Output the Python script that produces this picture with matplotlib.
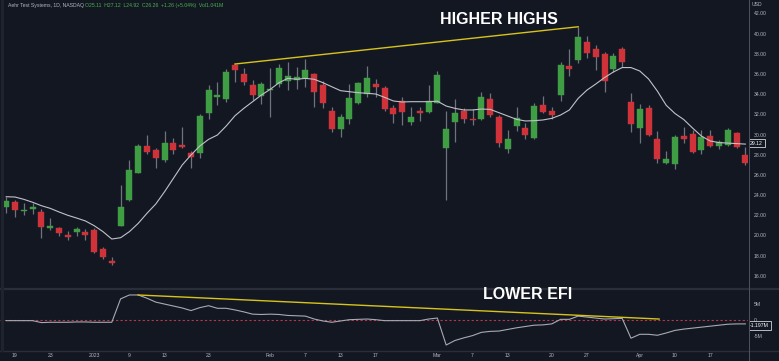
import matplotlib
matplotlib.use("Agg")
import matplotlib.pyplot as plt
from matplotlib.lines import Line2D
import numpy as np

# daily bars, 16 Dec 2022 .. 20 Apr 2023 (x = bar number)
opens = [22.79, 23.29, 22.45, 22.59, 22.36, 20.71, 20.77, 20.05, 20.32, 20.32,
         20.51, 18.66, 17.44, 20.97, 23.49, 26.19, 28.91, 28.46, 27.48, 29.13,
         28.96, 28.20, 28.20, 32.16, 33.74, 33.51, 36.88, 35.99, 34.90, 33.81,
         34.38, 35.00, 35.33, 35.40, 35.56, 35.99, 34.90, 32.36, 30.51, 31.50,
         33.15, 34.01, 35.00, 34.57, 32.62, 33.29, 31.21, 32.36, 32.26, 33.15,
         28.66, 31.24, 32.30, 31.57, 31.50, 33.51, 31.70, 28.56, 30.87, 30.61,
         29.68, 32.89, 32.36, 33.91, 36.81, 37.41, 39.15, 38.50, 37.97, 36.49,
         38.47, 33.25, 30.61, 32.62, 29.52, 27.15, 27.08, 29.88, 30.05, 28.47,
         29.85, 28.86, 28.96, 30.12, 27.97]
highs = [23.84, 23.52, 23.19, 23.25, 22.60, 21.73, 20.87, 20.48, 20.81, 20.61,
         20.71, 18.86, 17.84, 25.00, 27.48, 29.06, 29.98, 28.69, 30.38, 29.69,
         30.71, 28.37, 32.03, 34.90, 35.16, 36.51, 36.98, 36.55, 35.40, 35.23,
         36.60, 36.98, 37.21, 36.64, 37.48, 36.12, 35.33, 32.75, 32.03, 35.00,
         35.17, 36.78, 35.47, 34.80, 32.92, 33.68, 32.69, 32.69, 34.90, 36.32,
         32.36, 33.51, 32.59, 32.49, 34.18, 34.14, 31.93, 30.45, 32.75, 31.17,
         33.09, 33.81, 32.69, 37.21, 38.44, 40.67, 39.78, 38.86, 38.20, 38.04,
         38.70, 34.11, 32.99, 32.92, 30.35, 28.40, 29.95, 30.78, 30.45, 30.45,
         30.45, 29.45, 30.61, 30.28, 28.79]
lows = [22.26, 21.86, 22.00, 22.13, 19.72, 20.54, 19.98, 19.55, 19.98, 19.55,
        18.30, 17.64, 17.11, 20.97, 23.42, 26.16, 28.10, 26.71, 27.31, 28.10,
        28.63, 26.71, 27.70, 31.50, 32.92, 33.25, 35.17, 34.90, 33.42, 33.02,
        31.76, 34.67, 34.41, 34.47, 34.73, 32.69, 32.65, 30.28, 29.78, 31.04,
        33.02, 33.74, 33.68, 32.36, 31.17, 30.91, 30.94, 31.37, 32.16, 33.09,
        23.50, 29.29, 31.17, 30.91, 31.44, 31.76, 28.73, 28.14, 30.35, 29.52,
        29.58, 32.10, 31.50, 33.35, 35.79, 37.05, 37.54, 36.39, 34.24, 36.22,
        36.72, 30.25, 29.13, 29.85, 27.15, 27.05, 26.55, 29.13, 28.14, 28.04,
        28.79, 28.53, 28.89, 28.63, 26.98]
closes = [23.45, 22.55, 22.52, 22.82, 20.87, 20.97, 20.22, 19.85, 20.61, 20.08,
          18.37, 17.90, 17.27, 22.85, 26.49, 28.89, 28.24, 27.64, 29.20, 28.44,
          28.79, 27.74, 31.86, 34.41, 33.95, 36.16, 36.42, 35.23, 33.91, 34.97,
          34.47, 36.61, 35.79, 35.72, 36.39, 34.24, 33.09, 30.51, 31.76, 33.58,
          35.07, 35.59, 34.67, 32.52, 32.00, 32.20, 31.70, 32.10, 33.29, 35.89,
          30.51, 32.16, 31.53, 31.40, 33.68, 31.93, 29.19, 29.55, 31.60, 29.95,
          32.79, 32.20, 31.93, 36.88, 36.45, 39.62, 38.04, 37.70, 35.27, 37.80,
          37.15, 31.03, 32.52, 29.95, 27.54, 27.54, 29.72, 29.55, 28.24, 29.78,
          28.89, 29.22, 30.45, 28.79, 27.21]
ma_line = [23.84, 23.81, 23.58, 23.29, 22.95, 22.69, 22.33, 22.00, 21.73, 21.44,
           20.97, 20.38, 19.65, 19.78, 20.38, 21.20, 22.20, 23.12, 24.34, 25.66,
           26.98, 27.97, 28.86, 29.52, 29.95, 30.84, 31.86, 32.59, 33.25, 33.91,
           34.47, 35.13, 35.56, 35.47, 35.56, 35.47, 35.13, 34.73, 34.34, 34.24,
           34.14, 34.08, 34.01, 33.68, 33.32, 33.22, 33.25, 33.25, 33.25, 33.30,
           32.82, 32.59, 32.43, 32.43, 32.52, 32.49, 32.16, 31.83, 31.50, 31.34,
           31.37, 31.44, 31.60, 31.93, 32.43, 33.58, 34.40, 35.00, 35.64, 36.19,
           36.63, 36.63, 36.29, 35.50, 34.30, 32.90, 32.08, 31.48, 30.64, 29.85,
           29.36, 29.20, 29.15, 29.10, 29.05]
efi = [-0.2, -0.2, -0.2, -0.2, -0.8, -0.7, -0.7, -0.7, -0.6, -0.6,
       -0.7, -0.7, -0.7, 6.5, 7.7, 7.7, 6.7, 5.5, 4.9, 4.3,
       3.7, 2.9, 3.8, 4.4, 3.6, 3.6, 3.1, 2.5, 1.8, 1.7,
       1.8, 1.7, 1.4, 1.3, 1.2, 0.3, -0.3, -0.7, -0.3, 0.1,
       0.2, 0.3, 0.1, -0.2, -0.2, -0.2, -0.2, -0.2, 0.3, 0.6,
       -7.7, -6.3, -5.5, -4.8, -3.8, -3.5, -3.4, -2.9, -2.4, -2.0,
       -1.6, -1.5, -1.2, 0.2, 0.2, 1.2, 0.9, 0.6, 0.3, 0.4,
       0.5, -5.6, -4.4, -4.4, -4.7, -4.0, -3.2, -2.8, -2.5, -2.2,
       -1.9, -1.6, -1.3, -1.2, -1.2]  # millions

tick_pos = [1, 5, 10, 14, 18, 23, 30, 34, 38, 42, 49, 53, 57, 62, 66, 72, 76, 80]
tick_labels = ["19", "23", "2023", "9", "13", "23", "Feb", "7", "13", "17",
               "Mar", "7", "13", "20", "27", "Apr", "10", "17"]
price_ticks = list(range(16, 44, 2))
efi_ticks = [5, 0, -5]
efi_tick_labels = ["5M", "0", "-5M"]
hh_bars = [26, 65]                 # bars joined by the "higher highs" line
efi_trend = [(15, 7.7), (74.2, 0.3)]
ma_last = 29.12
efi_last = -1.197

BG = "#131722"
GREEN = "#3f9e44"
RED = "#cf3238"
WICK = "#6f737d"
TXT = "#b2b5be"
YEL = "#d8c31c"
FONT = "Liberation Sans"
FS = 3.7

W, H = 779, 361
fig = plt.figure(figsize=(W / 100, H / 100), dpi=100, facecolor=BG)
ax = fig.add_axes([0, 1 - 288 / H, 748 / W, 288 / H], facecolor=BG)
ax2 = fig.add_axes([0, 1 - 350 / H, 748 / W, 60 / H], facecolor=BG, sharex=ax)

x = np.arange(len(closes))
o = np.array(opens)
c = np.array(closes)
colors = np.where(c >= o, GREEN, RED)
body_lo = np.minimum(o, c)
body_h = np.maximum(np.abs(c - o), 0.12)

ax.vlines(x, lows, highs, color=WICK, lw=0.9, zorder=2)
ax.bar(x, body_h, bottom=body_lo, width=0.68, color=colors, edgecolor=colors,
       linewidth=0.3, zorder=3)
ax.plot(x, ma_line, color="#bfc2c9", lw=0.8, zorder=4)
ax.plot(hh_bars, [highs[i] for i in hh_bars], color=YEL, lw=1.0, zorder=5)

ax.set_xlim(-0.705, 84.3)
ax.set_ylim(14.8, 43.32)
ax.yaxis.tick_right()
ax.set_yticks(price_ticks)
ax.set_yticklabels(["%.2f" % p for p in price_ticks])
ax.tick_params(axis="y", length=0, pad=4, labelsize=FS, labelcolor=TXT)
ax.tick_params(axis="x", bottom=False, labelbottom=False)
for lab in ax.get_yticklabels():
    lab.set_fontfamily(FONT)
for s in ax.spines.values():
    s.set_visible(False)

ax.annotate("%.2f" % ma_last, xy=(1.0, ma_last), xycoords=("axes fraction", "data"),
            xytext=(1.5, 0), textcoords="offset points", ha="left", va="center",
            fontsize=FS, color="#ffffff", family=FONT, zorder=10,
            bbox=dict(boxstyle="square,pad=0.3", fc=BG, ec="#d1d4dc", lw=0.6),
            annotation_clip=False)

# Elder force index panel
ax2.plot(x, efi, color="#a7aab3", lw=0.8, zorder=3)
ax2.axhline(0, color="#b23a48", lw=0.8, ls=(0, (2, 2)), zorder=2)
ax2.plot([p[0] for p in efi_trend], [p[1] for p in efi_trend], color=YEL, lw=1.0, zorder=4)
ax2.set_ylim(-9.23, 9.23)
ax2.yaxis.tick_right()
ax2.set_yticks(efi_ticks)
ax2.set_yticklabels(efi_tick_labels)
ax2.tick_params(axis="y", length=0, pad=4, labelsize=FS, labelcolor=TXT)
ax2.set_xticks(tick_pos)
ax2.set_xticklabels(tick_labels)
ax2.tick_params(axis="x", length=0, pad=2.5, labelsize=FS, labelcolor=TXT)
for lab in ax2.get_xticklabels() + ax2.get_yticklabels():
    lab.set_fontfamily(FONT)
# the "0" label sits just above the value tag, as in TradingView
ax2.get_yticklabels()[1].set_y(0.8)
for s in ax2.spines.values():
    s.set_visible(False)

ax2.annotate("%.3fM" % efi_last, xy=(1.0, efi_last - 0.5), xycoords=("axes fraction", "data"),
             xytext=(1.5, 0), textcoords="offset points", ha="left", va="center",
             fontsize=FS, color="#ffffff", family=FONT, zorder=10,
             bbox=dict(boxstyle="square,pad=0.3", fc=BG, ec="#d1d4dc", lw=0.6),
             annotation_clip=False)

# panel separators
fig.add_artist(Line2D([0, 1], [1 - 289 / H] * 2, color="#2a2e39", lw=1.6))
fig.add_artist(Line2D([0, 1], [1 - 350.5 / H] * 2, color="#2a2e39", lw=1.0))
fig.add_artist(Line2D([748.5 / W] * 2, [0, 1], color="#50535e", lw=0.7))
fig.add_artist(Line2D([1.5 / W] * 2, [1 - 350 / H, 1], color="#1f232e", lw=2.2))

fig.text(8 / W, 1 - 5 / H, "Aehr Test Systems, 1D, NASDAQ", fontsize=FS, color=TXT,
         family=FONT, ha="left", va="center")
fig.text(85 / W, 1 - 5 / H, "O25.11  H27.12  L24.92  C26.26  +1.26 (+5.04%)  Vol1.041M",
         fontsize=FS, color="#4caf50", family=FONT, ha="left", va="center")
fig.text(752 / W, 1 - 4 / H, "USD", fontsize=FS, color=TXT, family=FONT,
         ha="left", va="center")

fig.text(499 / W, 1 - 20 / H, "HIGHER HIGHS", fontsize=11.5, fontweight="bold",
         color="white", family=FONT, ha="center", va="center")
fig.text(527.5 / W, 1 - 294.5 / H, "LOWER EFI", fontsize=11.5, fontweight="bold",
         color="white", family=FONT, ha="center", va="center")

fig.savefig("out.png", dpi=100, facecolor=BG)
